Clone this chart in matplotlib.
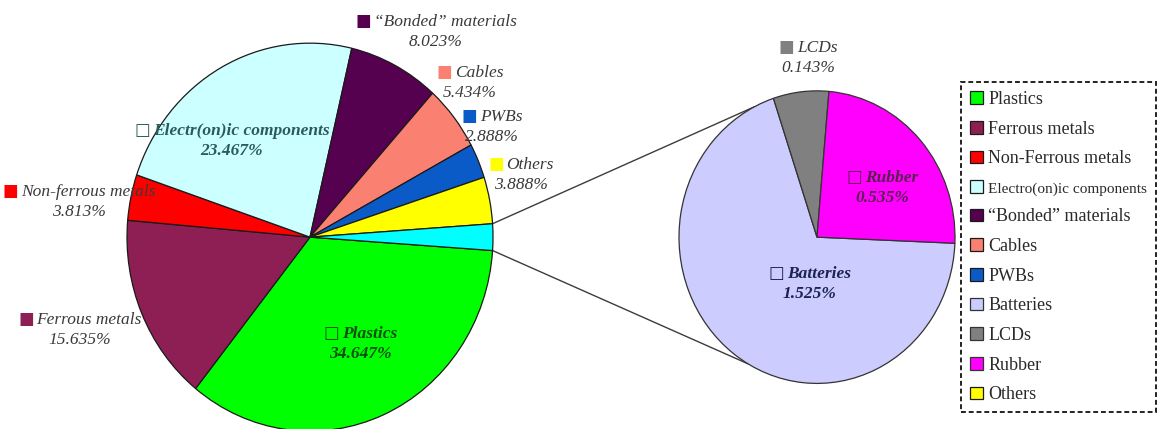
import matplotlib
matplotlib.use("Agg")
import matplotlib.pyplot as plt
from matplotlib.offsetbox import TextArea, HPacker, VPacker, AnnotationBbox
import numpy as np

W, H = 1158, 429
K = 1.06  # the reference picture is stretched a little vertically

# ---- data -------------------------------------------------------------
MAIN_NAMES = ["Plastics", "Ferrous metals", "Non-ferrous metals",
              "Electr(on)ic components", "\u201cBonded\u201d materials",
              "Cables", "PWBs", "Others"]
MAIN_VALUES = [34.647, 15.635, 3.813, 23.467, 8.023, 5.434, 2.888, 3.888]
MAIN_COLORS = ["#00FF00", "#8E1F55", "#FF0000", "#CCFFFF", "#560050",
               "#FA8072", "#0A5BC8", "#FFFF00"]
OTHER_COLOR = "#00FFFF"

SUB_NAMES = ["Batteries", "LCDs", "Rubber"]
SUB_VALUES = [1.525, 0.143, 0.535]
SUB_COLORS = ["#CCCCFF", "#808080", "#FF00FF"]

LEGEND_LABELS = ["Plastics", "Ferrous metals", "Non-Ferrous metals",
                 "Electro(on)ic components", "\u201cBonded\u201d materials",
                 "Cables", "PWBs", "Batteries", "LCDs", "Rubber", "Others"]

# ---- layout -----------------------------------------------------------
CY = 181
C1, R1 = (310, CY), 183
C2, R2 = (817, CY), 138

plt.rcParams["font.family"] = ["Liberation Serif", "DejaVu Sans"]
fig = plt.figure(figsize=(W / 100, H / 100), dpi=100)
ax = fig.add_axes([0, 0, 1, 1])

sub_total = sum(SUB_VALUES)
total = sum(MAIN_VALUES) + sub_total
half = sub_total / total * 180.0

wl, _ = ax.pie(MAIN_VALUES + [sub_total], colors=MAIN_COLORS + [OTHER_COLOR],
               startangle=-half, counterclock=False, center=C1, radius=R1,
               wedgeprops=dict(edgecolor="#1a1a1a", linewidth=0.9))
wr, _ = ax.pie(SUB_VALUES, colors=SUB_COLORS, startangle=-2.4,
               counterclock=False, center=C2, radius=R2,
               wedgeprops=dict(edgecolor="#333333", linewidth=0.9))
ax.set_aspect("auto")
ax.set_xlim(0, W)
ax.set_ylim(0, H / K)
ax.axis("off")

# connector lines between the "other" slice and the second pie
for a1, a2 in [(half, 117), (-half, -120)]:
    p1 = (C1[0] + R1 * np.cos(np.radians(a1)), C1[1] + R1 * np.sin(np.radians(a1)))
    p2 = (C2[0] + R2 * np.cos(np.radians(a2)), C2[1] + R2 * np.sin(np.radians(a2)))
    ax.plot([p1[0], p2[0]], [p1[1], p2[1]], color="#3c3c3c", lw=1.0, zorder=0.5)


def label(px, py, name, pct, sqcolor, color="#3a3a3a", bold=False,
          size=12.5, hollow=False):
    tp = dict(color=color, fontsize=size, fontstyle="italic",
              fontweight="bold" if bold else "normal",
              family="Liberation Serif")
    sq = TextArea("\u25A1" if hollow else "\u25A0",
                  textprops=dict(color=sqcolor, fontsize=size * 0.95,
                                 family="DejaVu Sans"))
    top = HPacker(children=[sq, TextArea(name, textprops=tp)],
                  pad=0, sep=2, align="baseline")
    box = VPacker(children=[top, TextArea(f"{pct:.3f}%", textprops=tp)],
                  pad=0, sep=3, align="center")
    ab = AnnotationBbox(box, (px, H - py), xycoords="figure pixels",
                        frameon=False, box_alignment=(0.5, 0.5), zorder=5)
    ax.add_artist(ab)


v = dict(zip(MAIN_NAMES, MAIN_VALUES))
c = dict(zip(MAIN_NAMES, MAIN_COLORS))
sv = dict(zip(SUB_NAMES, SUB_VALUES))
sc = dict(zip(SUB_NAMES, SUB_COLORS))

label(436, 31, MAIN_NAMES[4], v[MAIN_NAMES[4]], c[MAIN_NAMES[4]])
label(470, 82, "Cables", v["Cables"], c["Cables"])
label(492, 126, "PWBs", v["PWBs"], c["PWBs"])
label(521, 174, "Others", v["Others"], c["Others"])
label(79, 201, "Non-ferrous metals", v["Non-ferrous metals"], c["Non-ferrous metals"])
label(80, 329, "Ferrous metals", v["Ferrous metals"], c["Ferrous metals"])
label(232, 140, "Electr(on)ic components", v["Electr(on)ic components"],
      "#2c5a5a", color="#2c5a5a", bold=True, hollow=True)
label(360, 343, "Plastics", v["Plastics"], "#0b4d0b", color="#0b4d0b",
      bold=True, hollow=True)
label(808, 57, "LCDs", sv["LCDs"], sc["LCDs"])
label(882, 187, "Rubber", sv["Rubber"], "#5a2050", color="#5a2050",
      bold=True, hollow=True)
label(810, 283, "Batteries", sv["Batteries"], "#1c2450", color="#1c2450",
      bold=True, hollow=True)

# legend
handles = wl[:7] + list(wr) + [wl[7]]
leg = ax.legend(handles, LEGEND_LABELS, loc="upper left",
                bbox_to_anchor=(961 / W, 1 - 82 / H), bbox_transform=fig.transFigure,
                prop=dict(family="Liberation Serif", size=13),
                handlelength=0.7, handleheight=0.7,
                handletextpad=0.3, labelspacing=0.7, borderpad=0.5,
                fancybox=False, edgecolor="#222222", framealpha=1,
                borderaxespad=0)
leg.get_frame().set_linestyle((0, (2.5, 1.5)))
leg.get_frame().set_linewidth(1.4)
for t in leg.get_texts():
    t.set_color("#2a2a2a")
leg.get_texts()[3].set_fontsize(11)

fig.savefig("out.png", dpi=100)
